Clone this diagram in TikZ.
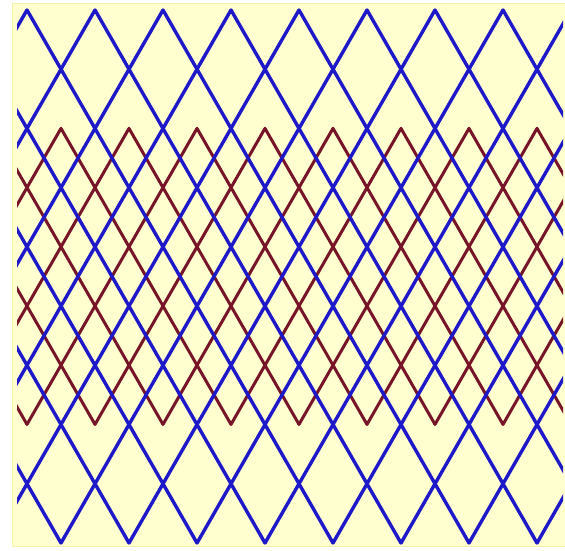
\documentclass[tikz,border=0pt]{standalone}
\begin{document}
\begin{tikzpicture}[x=1pt,y=-1pt,
  bgfill/.style={fill={rgb,255:red,255;green,255;blue,208}, draw={rgb,255:red,245;green,240;blue,170}, line width=1pt},
  blueline/.style={draw={rgb,255:red,30;green,25;blue,200}, line width=3.4pt, line cap=round},
  redline/.style={draw={rgb,255:red,120;green,20;blue,40}, line width=3pt, line cap=round}]
\useasboundingbox (0,0) rectangle (565,550);
\fill[white] (0,0) rectangle (565,550);
\path[bgfill] (12.5,3) rectangle (566,546.5);
\begin{scope}
\clip (17,0) rectangle (563,550);
% red lattice (drawn first, under blue)
\foreach \k in {-3,...,8} {
  \draw[redline] ({61+68*\k},128.4) -- ({61+68*\k+170},424.4);
}
\foreach \k in {0,...,10} {
  \draw[redline] ({61+68*\k},128.4) -- ({61+68*\k-170},424.4);
}
% blue lattice
\foreach \k in {-5,...,8} {
  \draw[blueline] ({27+68*\k},10) -- ({27+68*\k+306},543);
}
\foreach \k in {0,...,12} {
  \draw[blueline] ({27+68*\k},10) -- ({27+68*\k-306},543);
}
\end{scope}
\end{tikzpicture}
\end{document}
